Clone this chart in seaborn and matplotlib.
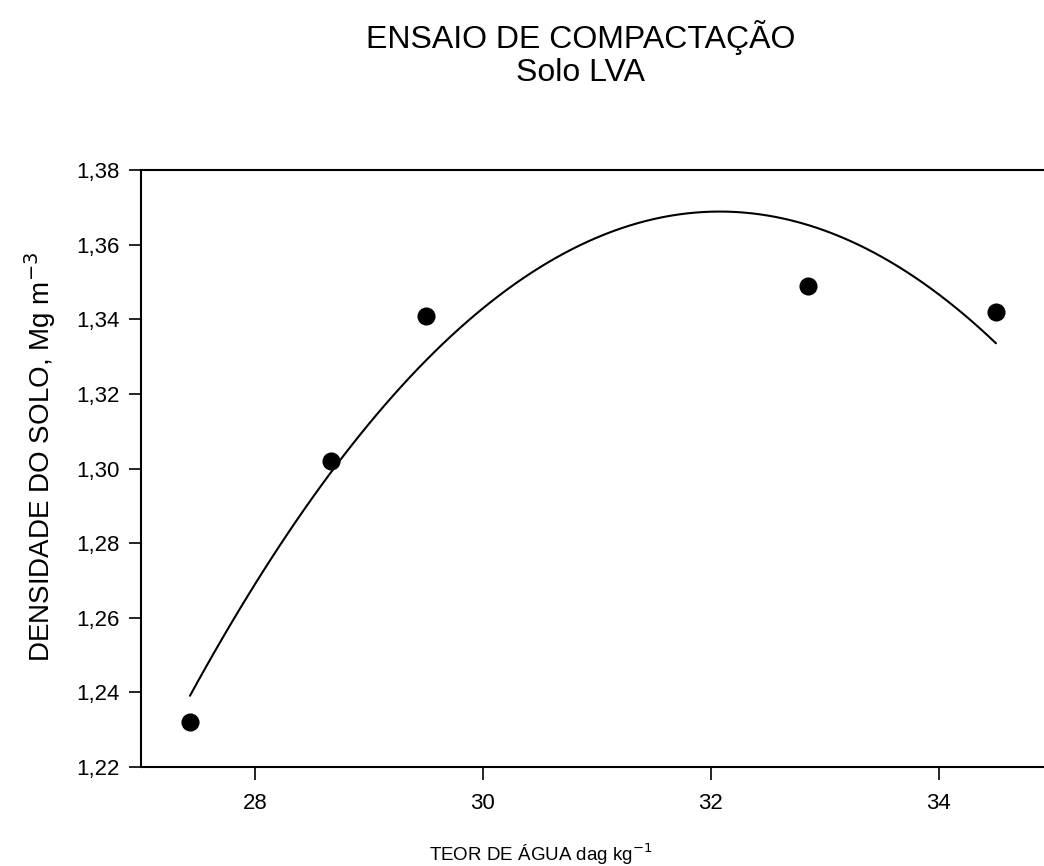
import matplotlib
matplotlib.use("Agg")
import matplotlib.pyplot as plt
import seaborn as sns

# data
teor_agua = [27.43, 28.67, 29.50, 32.85, 34.50]
densidade = [1.232, 1.302, 1.341, 1.349, 1.342]

y_ticks = [1.22, 1.24, 1.26, 1.28, 1.30, 1.32, 1.34, 1.36, 1.38]
x_ticks = [28, 30, 32, 34]

sns.set_style("white")
plt.rcParams['font.family'] = ['Liberation Sans', 'DejaVu Sans']
plt.rcParams['text.color'] = 'black'

fig = plt.figure(figsize=(10.44, 8.66), dpi=100)
ax = fig.add_axes([0.135, 0.1143, 0.8736, 0.6894])

# quadratic fit + points
sns.regplot(x=teor_agua, y=densidade, order=2, ci=None, ax=ax,
            scatter_kws=dict(s=170, color='black', alpha=1, zorder=3, linewidths=0),
            line_kws=dict(color='black', lw=1.5))

ax.set_xlim(27, 35)
ax.set_ylim(1.22, 1.38)
ax.set_xticks(x_ticks)
ax.set_xticklabels([str(t) for t in x_ticks])
ax.set_yticks(y_ticks)
ax.set_yticklabels([f"{t:.2f}".replace('.', ',') for t in y_ticks])
ax.tick_params(axis='both', direction='out', length=9, width=1.2, labelsize=16,
               colors='black', left=True, bottom=True)
ax.tick_params(axis='x', pad=10)
ax.tick_params(axis='y', pad=6)

for s in ['left', 'bottom', 'top']:
    ax.spines[s].set_color('black')
    ax.spines[s].set_linewidth(1.5)
ax.spines['right'].set_visible(False)

ax.set_xlabel("")
ax.set_ylabel("")

fig.text(0.5565, 0.957, "ENSAIO DE COMPACTAÇÃO", ha='center', va='center', fontsize=23)
fig.text(0.5565, 0.916, "Solo LVA", ha='center', va='center', fontsize=23)

fig.text(0.518, 0.014, "TEOR DE ÁGUA dag kg$^{-1}$", ha='center', va='center', fontsize=13.5)
fig.text(0.038, 0.472, "DENSIDADE DO SOLO, Mg m$^{-3}$", ha='center', va='center',
         rotation=90, fontsize=20)

fig.savefig("out.png", dpi=100)
